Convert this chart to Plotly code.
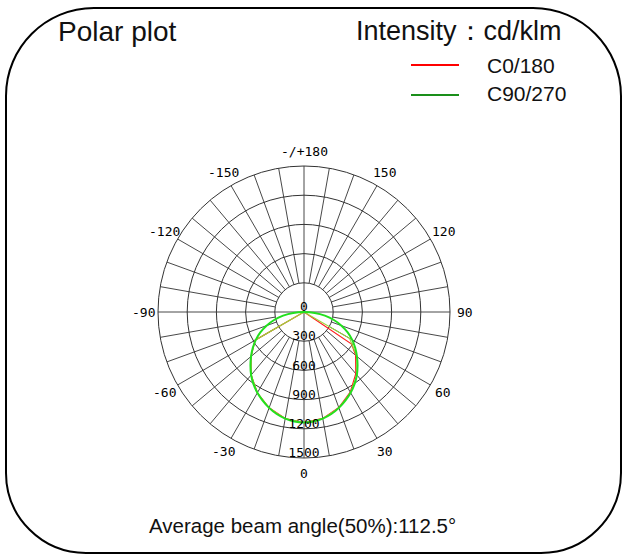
import math
import plotly.graph_objects as go

# ---------------- data ----------------
gamma_smooth = [-90, -85, -80, -75, -70, -65, -60, -55, -50, -45, -40, -35, -30, -25, -20, -15, -10, -5,
                0, 5, 10, 15, 20, 25, 30, 35, 40, 45, 50, 55, 60, 65, 70, 75, 80, 85, 90]
c90_smooth = [0, 112, 218, 318, 410, 495, 572, 642, 710, 778, 845, 905, 958, 1005, 1048, 1085, 1112, 1130,
              1135, 1130, 1112, 1085, 1048, 1005, 958, 905, 845, 778, 710, 642, 572, 495, 410, 318, 218, 112, 0]

gamma_c0 = [-90, -60, -50, -40, -30, -20, -10, 0, 10, 20, 30, 40, 50, 56, 90]
c0_values = [0, 580, 710, 845, 958, 1048, 1112, 1135, 1110, 1045, 950, 828, 692, 590, 0]

gamma_c90s = [-90, -60, -50, -40, -30, -20, -10, 0, 10, 20, 30, 40, 50, 60, 90]
c90_sampled = [0, 580, 710, 845, 958, 1048, 1112, 1135, 1112, 1048, 958, 845, 710, 540, 0]

series_names = ["C0/180", "C90/270"]
radial_ticks = [0, 300, 600, 900, 1200, 1500]
angle_ticks = [0, 30, 60, 90, 120, 150, 180, 210, 240, 270, 300, 330]
angle_labels = ["0", "30", "60", "90", "120", "150", "-/+180", "-150", "-120", "-90", "-60", "-30"]

title_text = "Polar plot"
unit_text = "Intensity\uff1acd/klm"
footer_text = "Average beam angle(50%):112.5\u00b0"

# ---------------- geometry helpers ----------------
W, H = 624, 555
def px(x):
    return x / W
def py(y):
    return 1 - y / H

CX, CY, R = 304, 312, 146
RMAX = 1500
GRID = "#333333"
MONO = "DejaVu Sans Mono"
SANS = "Liberation Sans, Arial, sans-serif"

fig = go.Figure()

# spokes every 10 degrees from the 300 ring outwards, full cross through centre
sp_r, sp_t = [], []
for a in range(0, 360, 10):
    if a % 90 == 0:
        continue
    sp_r += [radial_ticks[1], RMAX, None]
    sp_t += [a, a, None]
sp_r += [RMAX, 0, RMAX, None, RMAX, 0, RMAX]
sp_t += [0, 0, 180, None, 90, 90, 270]
fig.add_trace(go.Scatterpolar(r=sp_r, theta=sp_t, mode="lines",
                              line=dict(color=GRID, width=0.9),
                              hoverinfo="skip", showlegend=False))

# curves
fig.add_trace(go.Scatterpolar(r=c0_values, theta=gamma_c0, mode="lines", name=series_names[0],
                              line=dict(color="#ff2020", width=1.2), showlegend=False))
fig.add_trace(go.Scatterpolar(r=c90_sampled, theta=gamma_c90s, mode="lines", name=series_names[1],
                              line=dict(color="#9ad83a", width=1.1), showlegend=False))
fig.add_trace(go.Scatterpolar(r=c90_smooth, theta=gamma_smooth, mode="lines", name=series_names[1],
                              line=dict(color="#22e01e", width=2, shape="spline"), showlegend=False))

# radial labels (just above each ring, along the 0 direction)
off = 4 * RMAX / R
lab_r = [off if v == 0 else v - off for v in radial_ticks]
lab_t = [180 if v == 0 else 0 for v in radial_ticks]
fig.add_trace(go.Scatterpolar(r=lab_r, theta=lab_t, mode="text",
                              text=[str(v) for v in radial_ticks],
                              textfont=dict(family=MONO, size=13, color="#000"),
                              textposition="middle center", hoverinfo="skip",
                              showlegend=False, cliponaxis=False))

fig.update_layout(
    width=W, height=H,
    margin=dict(l=0, r=0, t=0, b=0),
    paper_bgcolor="white",
    plot_bgcolor="white",
    showlegend=False,
    polar=dict(
        domain=dict(x=[px(CX - R), px(CX + R)], y=[py(CY + R), py(CY - R)]),
        bgcolor="white",
        radialaxis=dict(range=[0, RMAX], tickvals=radial_ticks[1:], showticklabels=False,
                        ticks="", showline=False, gridcolor=GRID, gridwidth=0.9),
        angularaxis=dict(rotation=-90, direction="counterclockwise", showgrid=False,
                         showticklabels=False, ticks="", showline=True,
                         linecolor=GRID, linewidth=1),
    ),
)

# angular labels outside the outer ring
LR = 161
for a, lab in zip(angle_ticks, angle_labels):
    m = math.radians(-90 + a)
    fig.add_annotation(x=px(CX + LR * math.cos(m)), y=py(CY - LR * math.sin(m)),
                       xref="paper", yref="paper", text=lab, showarrow=False,
                       xanchor="center", yanchor="middle",
                       font=dict(family=MONO, size=13, color="#000"))

# rounded border
x0, y0, x1, y1 = 6, 8, 621, 553
rt, rb = 88, 80
k = 0.5523
def P(x, y):
    return f"{px(x):.5f},{py(y):.5f}"
path = (
    f"M {P(x0 + rt, y0)} L {P(x1 - rt, y0)} "
    f"C {P(x1 - rt + k * rt, y0)} {P(x1, y0 + rt - k * rt)} {P(x1, y0 + rt)} "
    f"L {P(x1, y1 - rb)} "
    f"C {P(x1, y1 - rb + k * rb)} {P(x1 - rb + k * rb, y1)} {P(x1 - rb, y1)} "
    f"L {P(x0 + rb, y1)} "
    f"C {P(x0 + rb - k * rb, y1)} {P(x0, y1 - rb + k * rb)} {P(x0, y1 - rb)} "
    f"L {P(x0, y0 + rt)} "
    f"C {P(x0, y0 + rt - k * rt)} {P(x0 + rt - k * rt, y0)} {P(x0 + rt, y0)} Z"
)
fig.add_shape(type="path", path=path, xref="paper", yref="paper",
              line=dict(color="black", width=2), layer="above")

# legend drawn by hand
leg_colors = ["#ff0000", "#1a8f1a"]
leg_line_y = [65, 95]
leg_text_y = [65, 93]
for name, col, ly, ty in zip(series_names, leg_colors, leg_line_y, leg_text_y):
    fig.add_shape(type="line", xref="paper", yref="paper",
                  x0=px(411), x1=px(459), y0=py(ly), y1=py(ly),
                  line=dict(color=col, width=2))
    fig.add_annotation(x=px(485), y=py(ty), xref="paper", yref="paper", text=name,
                       showarrow=False, xanchor="left", yanchor="middle",
                       font=dict(family=SANS, size=21, color="#111"))

fig.add_annotation(x=px(56), y=py(32), xref="paper", yref="paper", text=title_text,
                   showarrow=False, xanchor="left", yanchor="middle",
                   font=dict(family=SANS, size=28, color="#111"))
fig.add_annotation(x=px(354), y=py(31), xref="paper", yref="paper", text=unit_text,
                   showarrow=False, xanchor="left", yanchor="middle",
                   font=dict(family=SANS, size=27, color="#111"))
fig.add_annotation(x=px(147), y=py(525), xref="paper", yref="paper", text=footer_text,
                   showarrow=False, xanchor="left", yanchor="middle",
                   font=dict(family=SANS, size=20.5, color="#111"))

fig.write_html("out.html", config={"displayModeBar": False},
               post_script="document.body.style.margin='0px';")
